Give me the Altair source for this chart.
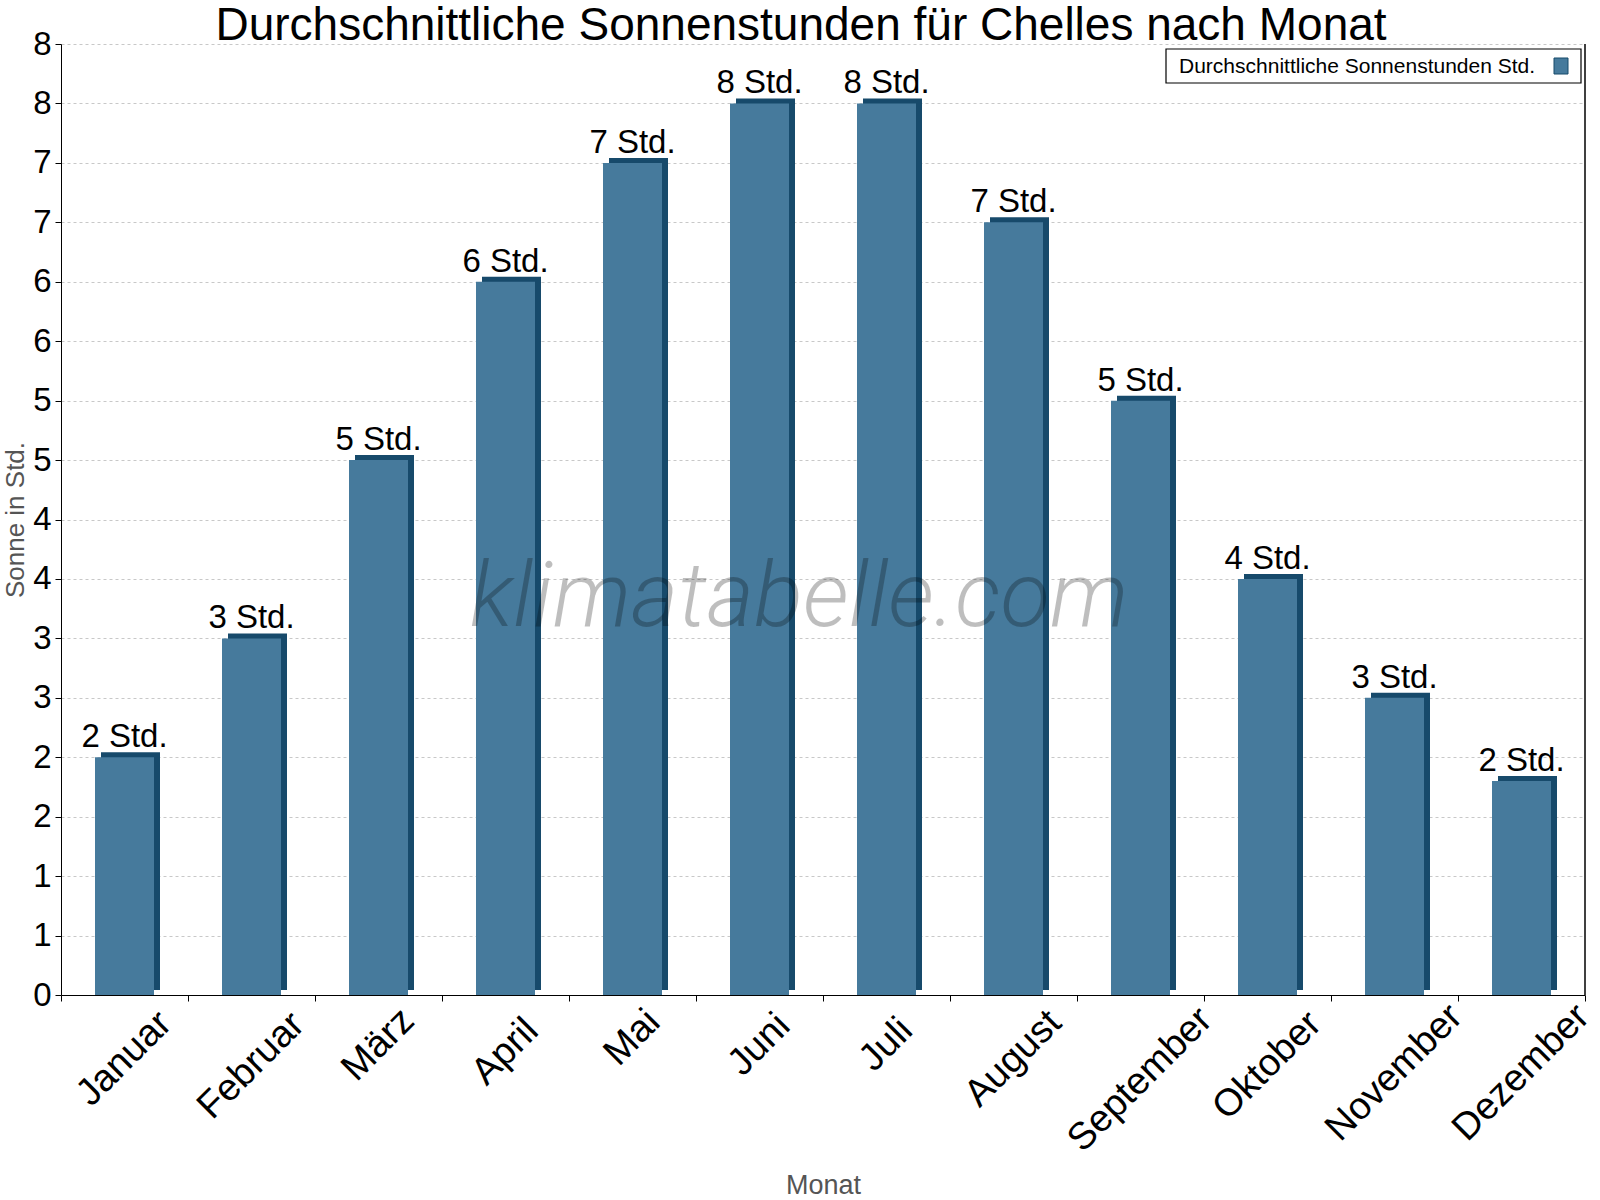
import altair as alt
import pandas as pd

months = ["Januar", "Februar", "März", "April", "Mai", "Juni", "Juli",
          "August", "September", "Oktober", "November", "Dezember"]
sun_hours = [2.0, 3.0, 4.5, 6.0, 7.0, 7.5, 7.5, 6.5, 5.0, 3.5, 2.5, 1.8]
y_ticks = [0, 0.5, 1, 1.5, 2, 2.5, 3, 3.5, 4, 4.5, 5, 5.5, 6, 6.5, 7, 7.5, 8]

title_text = "Durchschnittliche Sonnenstunden für Chelles nach Monat"
legend_text = "Durchschnittliche Sonnenstunden Std."
x_title = "Monat"
y_title = "Sonne in Std."
watermark = "klimatabelle.com"

MAIN = "#467a9c"
DARK = "#174a6b"
FONT = "Liberation Sans"
W, H = 1524, 951
XL = 38  # month label font size

df = pd.DataFrame({"Monat": months, "Sonne": sun_hours})

x_scale = alt.Scale(paddingInner=0, paddingOuter=0)
x_enc = alt.X("Monat:N", sort=months, scale=x_scale,
              axis=alt.Axis(title=x_title, labels=False, tickBand="extent", tickSize=6,
                            tickColor="black", domainColor="black", titleFont=FONT,
                            titleFontSize=27, titleFontWeight="normal", titleColor="#555555",
                            titleY=198, titleBaseline="alphabetic", titleX=W / 2,
                            titleAlign="center"))
y_scale = alt.Scale(domain=[0, 8], nice=False)
y_axis = alt.Axis(title=y_title, values=y_ticks, labelExpr="round(datum.value)",
                  labelFontSize=33, labelFont=FONT, labelColor="black", labelPadding=4,
                  tickSize=6, tickColor="black", domainColor="black",
                  grid=True, gridDash=[3, 3], gridColor="#c8c8c8",
                  titleFont=FONT, titleFontSize=26, titleFontWeight="normal",
                  titleColor="#555555", titleX=-46, titleY=H / 2, titleAngle=-90,
                  titleAlign="center", titleBaseline="middle")
y_enc = alt.Y("Sonne:Q", scale=y_scale, axis=y_axis)

base = alt.Chart(df)
dark = base.mark_bar(size=59, xOffset=6, yOffset=-5, color=DARK).encode(x=x_enc, y=y_enc)
main = base.mark_bar(size=59, color=MAIN).encode(x=x_enc, y=y_enc)
labels = base.transform_calculate(
    lab="round(datum.Sonne) + ' Std.'"
).mark_text(dy=-10, baseline="alphabetic", fontSize=33, font=FONT, color="black").encode(
    x=x_enc, y=y_enc, text="lab:N")

# rotated month labels: bounding box centred under each band, top just below the axis
month_labels = base.transform_calculate(
    yl=f"-(12 + 0.3535 * (length(datum.Monat) * 0.52 * {XL} + 0.75 * {XL})) * 8 / {H}"
).mark_text(angle=315, align="center", baseline="middle", fontSize=XL, font=FONT,
            color="black").encode(
    x=x_enc, y=alt.Y("yl:Q", scale=y_scale, axis=y_axis), text="Monat:N")

one = alt.Chart(pd.DataFrame({"k": [0]}))
wm = one.mark_text(font="Roboto", fontWeight=300, fontStyle="italic", fontSize=91,
                   color="black", opacity=0.25, align="center", baseline="middle").encode(
    x=alt.value(738), y=alt.value(555), text=alt.value(watermark))
border = one.mark_rule(color="black", strokeWidth=1.5).encode(
    x=alt.value(W), y=alt.value(0), y2=alt.value(H))
leg_box = one.mark_rect(fill="white", stroke="black", strokeWidth=1.2).encode(
    x=alt.value(1105), x2=alt.value(1520), y=alt.value(5), y2=alt.value(39))
leg_text = one.mark_text(font=FONT, fontSize=21, align="left", baseline="alphabetic",
                         color="black").encode(
    x=alt.value(1118), y=alt.value(29), text=alt.value(legend_text))
leg_sym = one.mark_rect(fill=MAIN, stroke=DARK, strokeWidth=1).encode(
    x=alt.value(1493), x2=alt.value(1507), y=alt.value(14), y2=alt.value(30))

chart = alt.layer(dark, main, wm, labels, month_labels, border, leg_box, leg_text,
                  leg_sym).properties(
    width=W, height=H,
    title=alt.TitleParams(title_text, font=FONT, fontSize=46, fontWeight="normal",
                          color="black", anchor="middle", dx=-22, dy=26, offset=4),
    autosize=alt.AutoSizeParams(type="none"),
    padding={"left": 61, "top": 44, "right": 15, "bottom": 205},
).configure_view(stroke=None)

chart.save("out.html", embed_options={"renderer": "svg", "actions": False})
